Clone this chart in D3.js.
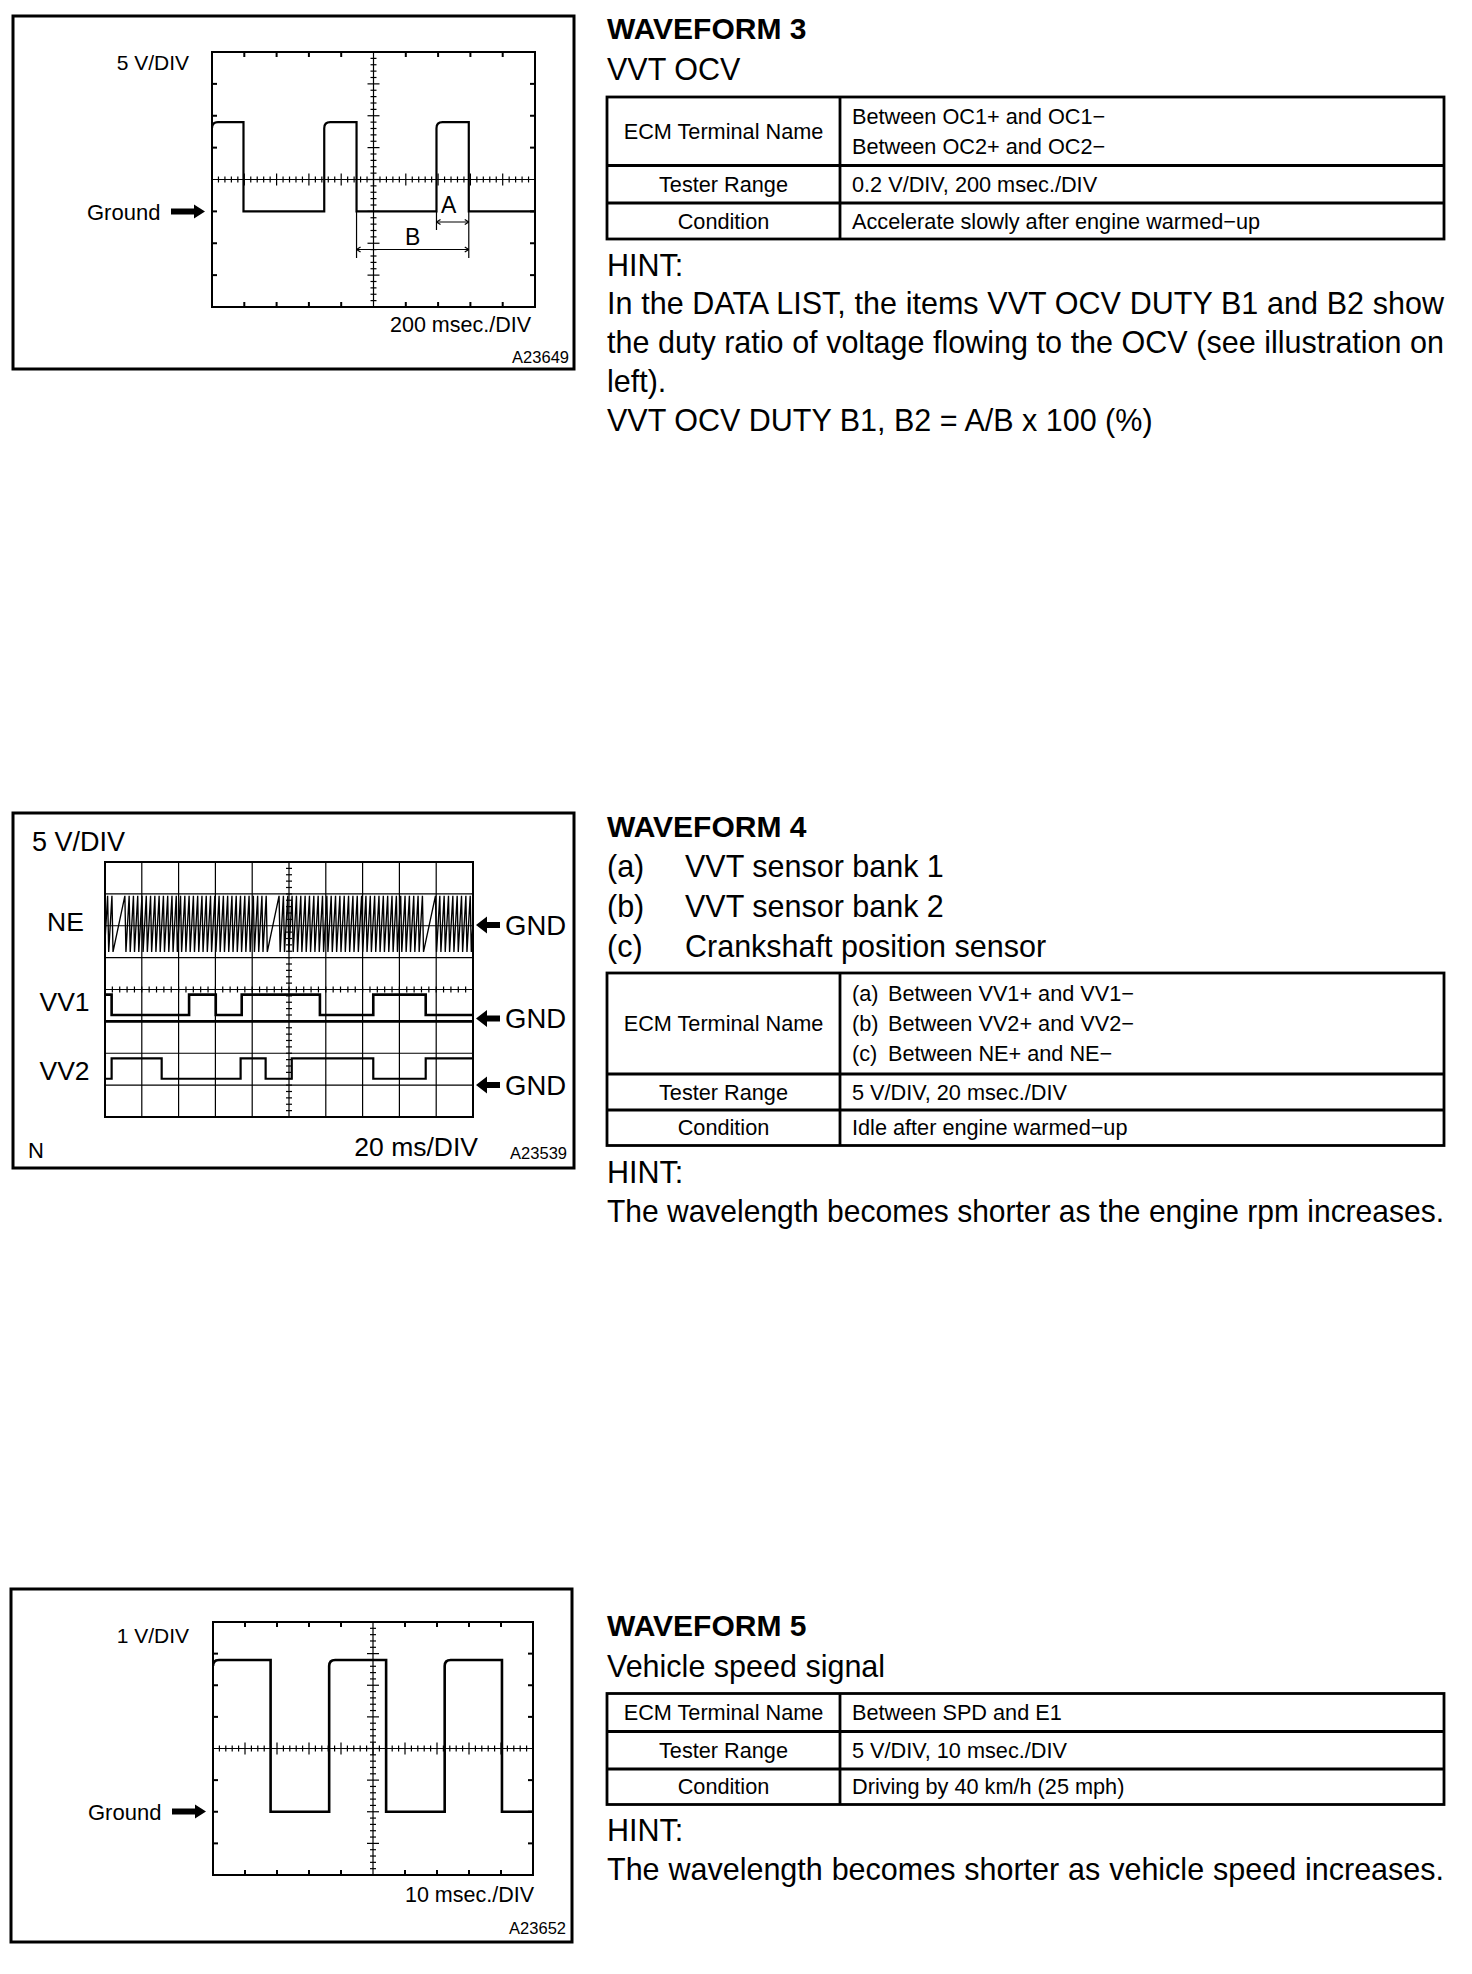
<!DOCTYPE html>
<html>
<head>
<meta charset="utf-8">
<script src="https://cdnjs.cloudflare.com/ajax/libs/d3/7.8.5/d3.min.js"></script>
<style>
  body { margin: 0; background: #fff; }
  svg { display: block; }
  text { font-family: "Liberation Sans", Arial, Helvetica, sans-serif; fill: #000; }
</style>
</head>
<body>
<script>
'use strict';

/* globals d3 */

// ---------- waveform 3 : VVT OCV, 200 msec./DIV, 5 V/DIV ----------
var ocvMs = [0, 195, 695, 895, 1390, 1590, 2000];
var ocvVolts = [14, 0, 14, 0, 14, 0, 0];
var ocvSpanA = [1390, 1590];
var ocvSpanB = [895, 1590];

// ---------- waveform 4 : NE / VV1 / VV2, 20 ms/DIV, 5 V/DIV ----------
// first tooth after each missing-tooth gap of the crank signal
var neRevStartMs = [-73.6, 10.8, 94.6, 179.6];
var neSlots = 36, neTeeth = 34;
var neHighV = 4.7, neLowV = -4.1;
var vv1Ms = [0, 3.6, 45.7, 60.2, 74.3, 116.8, 145.8, 174.3, 200];
var vv1Volts = [4.2, 1.0, 4.2, 1.0, 4.2, 1.0, 4.2, 1.0, 1.0];
var vv2Ms = [0, 3.6, 30.8, 73.7, 87.3, 101.5, 145.8, 174.3, 200];
var vv2Volts = [1.0, 4.2, 1.0, 4.2, 1.0, 4.2, 1.0, 4.2, 4.2];
var wf4Channels = ['NE', 'VV1', 'VV2'];
var wf4GndDiv = [6, 3, 1];

// ---------- waveform 5 : vehicle speed, 10 msec./DIV, 1 V/DIV ----------
var spdMs = [0, 18.0, 36.3, 54.1, 72.4, 90.3, 100];
var spdVolts = [4.8, 0, 4.8, 0, 4.8, 0, 0];

// ---------- texts ----------
var wf3Rows = [
    ['ECM Terminal Name', ['Between OC1+ and OC1\u2212', 'Between OC2+ and OC2\u2212']],
    ['Tester Range', ['0.2 V/DIV, 200 msec./DIV']],
    ['Condition', ['Accelerate slowly after engine warmed\u2212up']]
];
var wf3Hint = [
    'In the DATA LIST, the items VVT OCV DUTY B1 and B2 show',
    'the duty ratio of voltage flowing to the OCV (see illustration on',
    'left).',
    'VVT OCV DUTY B1, B2 = A/B x 100 (%)'
];
var wf4Items = [['(a)', 'VVT sensor bank 1'], ['(b)', 'VVT sensor bank 2'], ['(c)', 'Crankshaft position sensor']];
var wf4Rows = [
    ['ECM Terminal Name', [['(a)', 'Between VV1+ and VV1\u2212'], ['(b)', 'Between VV2+ and VV2\u2212'], ['(c)', 'Between NE+ and NE\u2212']]],
    ['Tester Range', ['5 V/DIV, 20 msec./DIV']],
    ['Condition', ['Idle after engine warmed\u2212up']]
];
var wf4Hint = ['The wavelength becomes shorter as the engine rpm increases.'];
var wf5Rows = [
    ['ECM Terminal Name', ['Between SPD and E1']],
    ['Tester Range', ['5 V/DIV, 10 msec./DIV']],
    ['Condition', ['Driving by 40 km/h (25 mph)']]
];
var wf5Hint = ['The wavelength becomes shorter as vehicle speed increases.'];

var W = 1472, H = 1974;
var BODY = 30.5, CELL = 21.7;
var svg = d3.select('body').append('svg').attr('width', W).attr('height', H);
svg.append('rect').attr('width', W).attr('height', H).attr('fill', '#fff');

var clipId = 0;

function txt(g, x, y, s, size, anchor, weight) {
    return g.append('text')
        .attr('x', x).attr('y', y)
        .attr('font-size', size)
        .attr('text-anchor', anchor || 'start')
        .attr('font-weight', weight || 'normal')
        .attr('dominant-baseline', 'central')
        .text(s);
}

function seg(g, x1, y1, x2, y2, w) {
    g.append('line').attr('x1', x1).attr('y1', y1).attr('x2', x2).attr('y2', y2)
        .attr('stroke', '#000').attr('stroke-width', w || 1);
}

// thick arrow, tip at xt, tail at xs
function bigArrow(g, xs, xt, y, head, half, shaft) {
    var dir = xt > xs ? 1 : -1;
    var hb = xt - dir * head;
    var p = d3.path();
    p.moveTo(xs, y - shaft);
    p.lineTo(hb, y - shaft);
    p.lineTo(hb, y - half);
    p.lineTo(xt, y);
    p.lineTo(hb, y + half);
    p.lineTo(hb, y + shaft);
    p.lineTo(xs, y + shaft);
    p.closePath();
    g.append('path').attr('d', p.toString()).attr('fill', '#000');
}

/**
 * Oscilloscope screen: 10 x 8 divisions
 */
function scope(o) {
    var g = svg.append('g');
    var s = {g: g};
    s.dx = d3.scaleLinear().domain([0, 10]).range([o.x0, o.x1]);
    s.dy = d3.scaleLinear().domain([0, 8]).range([o.y1, o.y0]);
    s.tx = d3.scaleLinear().domain([0, 10 * o.msDiv]).range([o.x0, o.x1]);
    s.vy = d3.scaleLinear().domain([-o.gndDiv * o.vDiv, (8 - o.gndDiv) * o.vDiv]).range([o.y1, o.y0]);

    // outer box
    g.append('rect').attr('x', o.box[0]).attr('y', o.box[1])
        .attr('width', o.box[2] - o.box[0]).attr('height', o.box[3] - o.box[1])
        .attr('fill', 'none').attr('stroke', '#000').attr('stroke-width', 3);

    if (o.grid) {
        d3.range(1, 10).forEach(function (i) {
            if (i !== 5) seg(g, s.dx(i), o.y0, s.dx(i), o.y1, 1.2);
        });
        d3.range(1, 8).forEach(function (j) {
            if (j !== 4) seg(g, o.x0, s.dy(j), o.x1, s.dy(j), 1.2);
        });
    } else {
        d3.range(1, 10).forEach(function (i) {
            if (i === 5) return;
            seg(g, s.dx(i), o.y0, s.dx(i), o.y0 + 5, 2);
            seg(g, s.dx(i), o.y1, s.dx(i), o.y1 - 5, 2);
        });
        d3.range(1, 8).forEach(function (j) {
            if (j === 4) return;
            seg(g, o.x0, s.dy(j), o.x0 + 5, s.dy(j), 2);
            seg(g, o.x1, s.dy(j), o.x1 - 5, s.dy(j), 2);
        });
    }

    // centre axes with minor ticks (0.2 div)
    var cx = s.dx(5), cy = s.dy(4);
    seg(g, cx, o.y0, cx, o.y1, 1.2);
    seg(g, o.x0, cy, o.x1, cy, 1.2);
    var big = o.grid ? 3 : 6;
    d3.range(0, 40).forEach(function (k) {
        var d = k / 5, len = (k % 5 === 0) ? big : 3;
        if (k > 0) seg(g, cx - len, s.dy(d), cx + len, s.dy(d), 1.2);
    });
    d3.range(0, 50).forEach(function (k) {
        var d = k / 5, len = (k % 5 === 0) ? big : 3;
        if (k > 0) seg(g, s.dx(d), cy - len, s.dx(d), cy + len, 1.2);
    });

    // plot frame
    g.append('rect').attr('x', o.x0).attr('y', o.y0)
        .attr('width', o.x1 - o.x0).attr('height', o.y1 - o.y0)
        .attr('fill', 'none').attr('stroke', '#000').attr('stroke-width', 2);

    clipId += 1;
    var cid = 'clip' + clipId;
    svg.append('clipPath').attr('id', cid).append('rect')
        .attr('x', o.x0).attr('y', o.y0 - 1).attr('width', o.x1 - o.x0).attr('height', o.y1 - o.y0 + 2);
    s.trace = g.append('g').attr('clip-path', 'url(#' + cid + ')');
    return s;
}

// square wave with rounded top corners on rising edges
function roundedSquare(s, ms, volts, r, w) {
    var p = d3.path();
    ms.forEach(function (t, i) {
        var x = s.tx(t), y = s.vy(volts[i]);
        var high = volts[i] > 0.5;
        if (i === 0) {
            if (high) {
                p.moveTo(x, y + r);
                p.quadraticCurveTo(x, y, x + r, y);
            } else {
                p.moveTo(x, y);
            }
            return;
        }
        var prevY = s.vy(volts[i - 1]);
        if (high && volts[i] > volts[i - 1]) {
            p.lineTo(x, prevY);
            p.lineTo(x, y + r);
            p.quadraticCurveTo(x, y, x + r, y);
        } else {
            p.lineTo(x, prevY);
            p.lineTo(x, y);
        }
    });
    s.trace.append('path').attr('d', p.toString())
        .attr('fill', 'none').attr('stroke', '#000').attr('stroke-width', w)
        .attr('stroke-linejoin', 'miter');
}

/* ===================== panel 1 : waveform 3 ===================== */
var s1 = scope({x0: 212, x1: 535, y0: 52, y1: 307, msDiv: 200, vDiv: 5, gndDiv: 3,
    box: [13, 16, 574, 369], grid: false});
roundedSquare(s1, ocvMs, ocvVolts, 6, 2.2);

(function () {
    var g = s1.g, y0 = s1.vy(0);
    var xa0 = s1.tx(ocvSpanA[0]), xa1 = s1.tx(ocvSpanA[1]);
    var xb0 = s1.tx(ocvSpanB[0]), xb1 = s1.tx(ocvSpanB[1]);
    var ya = 222, yb = 249.5;
    seg(g, xa0, y0, xa0, 230, 1.2);
    seg(g, xb1, y0, xb1, 258, 1.2);
    seg(g, xb0, y0, xb0, 258, 1.2);
    seg(g, xa0, ya, xa1, ya, 1.2);
    seg(g, xb0, yb, xb1, yb, 1.2);
    [[xa0, ya, 1], [xa1, ya, -1], [xb0, yb, 1], [xb1, yb, -1]].forEach(function (a) {
        seg(g, a[0], a[1], a[0] + a[2] * 4, a[1] - 2.5, 1.2);
        seg(g, a[0], a[1], a[0] + a[2] * 4, a[1] + 2.5, 1.2);
    });
    txt(g, (xa0 + xa1) / 2 - 4, 205, 'A', 23, 'middle');
    txt(g, (xb0 + xb1) / 2, 237, 'B', 23, 'middle');

    txt(g, 189, 62, '5 V/DIV', 21, 'end');
    txt(g, 87, 212, 'Ground', 22, 'start');
    bigArrow(g, 171, 205, 211.5, 11, 7, 3);
    txt(g, 531, 325, '200 msec./DIV', 21.5, 'end');
    txt(g, 569, 357, 'A23649', 16.5, 'end');
})();

/* ===================== panel 2 : waveform 4 ===================== */
var s2 = scope({x0: 105, x1: 473, y0: 862, y1: 1117, msDiv: 20, vDiv: 5, gndDiv: 0,
    box: [13, 813, 574, 1168], grid: true});

(function () {
    var g = s2.g;
    var chY = function (ch, v) { return s2.dy(wf4GndDiv[ch] + v / 5); };

    // thick VV1 ground line
    seg(g, 105, chY(1, 0), 473, chY(1, 0), 2.6);

    // NE crank signal, 36-2 tooth wheel
    var pts = [];
    neRevStartMs.forEach(function (t0, i) {
        var next = i + 1 < neRevStartMs.length ? neRevStartMs[i + 1] : t0 + 85;
        var slot = (next - t0) / neSlots;
        d3.range(neTeeth).forEach(function (k) {
            var t = t0 + k * slot;
            pts.push([t, neHighV]);
            pts.push([t + 0.25 * slot, neLowV]);
        });
    });
    var neLine = d3.line()
        .x(function (d) { return s2.tx(d[0]); })
        .y(function (d) { return chY(0, d[1]); });
    s2.trace.append('path').attr('d', neLine(pts))
        .attr('fill', 'none').attr('stroke', '#000').attr('stroke-width', 1.35);

    // VV1 / VV2 step traces
    [[vv1Ms, vv1Volts, 1], [vv2Ms, vv2Volts, 2]].forEach(function (c) {
        var line = d3.line().curve(d3.curveStepAfter)
            .x(function (d, i) { return s2.tx(c[0][i]); })
            .y(function (d) { return chY(c[2], d); });
        s2.trace.append('path').attr('d', line(c[1]))
            .attr('fill', 'none').attr('stroke', '#000').attr('stroke-width', c[2] === 1 ? 2.6 : 2.2);
    });

    // labels
    txt(g, 32, 842, '5 V/DIV', 27, 'start');
    var labX = [47, 39.5, 39.5], labY = [922, 1001.5, 1071];
    var gndY = [925, 1018.5, 1085];
    wf4Channels.forEach(function (name, i) {
        txt(g, labX[i], labY[i], name, 26.5, 'start');
        bigArrow(g, 500, 476, gndY[i], 11, 8.5, 3);
        txt(g, 505, gndY[i], 'GND', 27.5, 'start');
    });
    txt(g, 28, 1150, 'N', 22, 'start');
    txt(g, 478, 1147, '20 ms/DIV', 26.5, 'end');
    txt(g, 567, 1153, 'A23539', 16.5, 'end');
})();

/* ===================== panel 3 : waveform 5 ===================== */
var s3 = scope({x0: 213, x1: 533, y0: 1622, y1: 1875, msDiv: 10, vDiv: 1, gndDiv: 2,
    box: [11, 1589, 572, 1942], grid: false});
roundedSquare(s3, spdMs, spdVolts, 6, 2.6);
(function () {
    var g = s3.g;
    txt(g, 189, 1635, '1 V/DIV', 21, 'end');
    txt(g, 88, 1812, 'Ground', 22, 'start');
    bigArrow(g, 172, 206, 1811.5, 11, 7, 3);
    txt(g, 534, 1895, '10 msec./DIV', 21.5, 'end');
    txt(g, 566, 1928, 'A23652', 16.5, 'end');
})();

/* ===================== right-hand text column ===================== */
var colX = 607, colDiv = 840, colR = 1444;
var textG = svg.append('g');

function table(rows, ys) {
    var g = textG.append('g');
    rows.forEach(function (r, i) {
        var yc = (ys[i] + ys[i + 1]) / 2;
        txt(g, (colX + colDiv) / 2, yc, r[0], CELL, 'middle');
        var n = r[1].length;
        r[1].forEach(function (line, j) {
            var y = yc + (j - (n - 1) / 2) * 30;
            if (Array.isArray(line)) {
                txt(g, 852, y, line[0], CELL, 'start');
                txt(g, 888, y, line[1], CELL, 'start');
            } else {
                txt(g, 852, y, line, CELL, 'start');
            }
        });
    });
    g.append('rect').attr('x', colX).attr('y', ys[0])
        .attr('width', colR - colX).attr('height', ys[ys.length - 1] - ys[0])
        .attr('fill', 'none').attr('stroke', '#000').attr('stroke-width', 2.8);
    ys.slice(1, -1).forEach(function (y) { seg(g, colX, y, colR, y, 2.8); });
    seg(g, colDiv, ys[0], colDiv, ys[ys.length - 1], 2.8);
}

// justified lines fill the column exactly
function paragraph(lines, y0, justify) {
    var target = colR - colX;
    lines.forEach(function (s, i) {
        var t = txt(textG, colX, y0 + i * 39, s, BODY, 'start');
        var len = t.node().getComputedTextLength();
        if (len > target) {
            t.attr('textLength', target).attr('lengthAdjust', 'spacingAndGlyphs');
        } else if (justify[i]) {
            var gaps = s.split(' ').length - 1;
            if (gaps > 0) t.attr('word-spacing', ((target - len) / gaps).toFixed(2));
        }
    });
}

// waveform 3
txt(textG, colX, 28, 'WAVEFORM 3', 30, 'start', 'bold');
txt(textG, colX, 68.5, 'VVT OCV', BODY, 'start');
table(wf3Rows, [97, 165.5, 203, 239]);
txt(textG, colX, 265, 'HINT:', BODY, 'start');
paragraph(wf3Hint, 303, [true, true, false, false]);

// waveform 4
txt(textG, colX, 826, 'WAVEFORM 4', 30, 'start', 'bold');
wf4Items.forEach(function (it, i) {
    txt(textG, colX, 866 + i * 40, it[0], BODY, 'start');
    txt(textG, 685, 866 + i * 40, it[1], BODY, 'start');
});
table(wf4Rows, [973, 1074, 1110, 1145.5]);
txt(textG, colX, 1172, 'HINT:', BODY, 'start');
paragraph(wf4Hint, 1211, [true]);

// waveform 5
txt(textG, colX, 1625.5, 'WAVEFORM 5', 30, 'start', 'bold');
txt(textG, colX, 1666, 'Vehicle speed signal', BODY, 'start');
table(wf5Rows, [1693.5, 1731.5, 1769, 1804.5]);
txt(textG, colX, 1830, 'HINT:', BODY, 'start');
paragraph(wf5Hint, 1869, [true]);
</script>
</body>
</html>
